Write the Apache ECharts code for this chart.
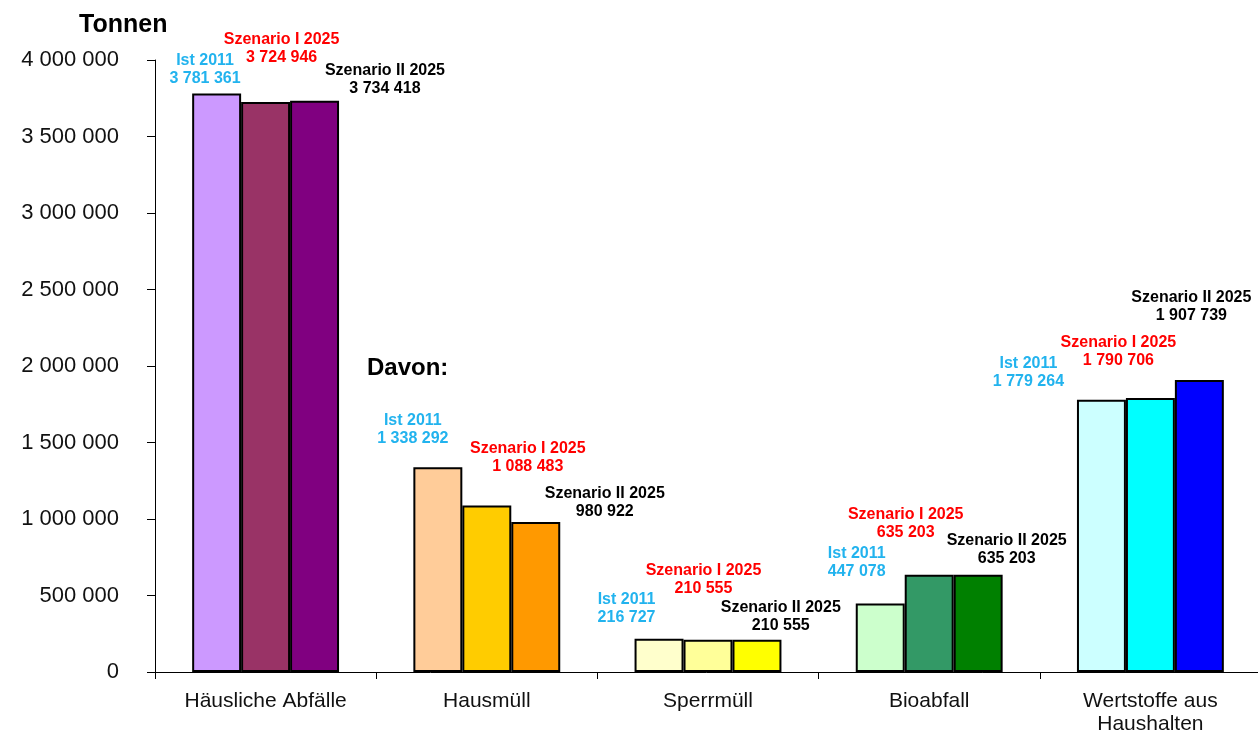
<!DOCTYPE html>
<html>
<head>
<meta charset="utf-8">
<script src="https://cdn.jsdelivr.net/npm/echarts@6/dist/echarts.min.js"></script>
<style>
  html, body { margin: 0; padding: 0; background: #ffffff; }
  #chart { width: 1258px; height: 731px; }
</style>
</head>
<body>
<div id="chart"></div>
<script>
// Waste quantities in tonnes: actual 2011 and two 2025 scenarios
const categories = ['Häusliche Abfälle', 'Hausmüll', 'Sperrmüll', 'Bioabfall', 'Wertstoffe aus\nHaushalten'];
const seriesNames = ['Ist 2011', 'Szenario I 2025', 'Szenario II 2025'];
const ist2011 = [3781361, 1338292, 216727, 447078, 1779264];
const szenario1 = [3724946, 1088483, 210555, 635203, 1790706];
const szenario2 = [3734418, 980922, 210555, 635203, 1907739];
const yMin = 0;
const yMax = 4000000;
const yStep = 500000;

// Fill colours per series (rows) and category (columns)
const barColors = [
  ['#CC99FF', '#FFCC99', '#FFFFCC', '#CCFFCC', '#CCFFFF'],
  ['#993366', '#FFCC00', '#FFFF99', '#339966', '#00FFFF'],
  ['#800080', '#FF9900', '#FFFF00', '#008000', '#0000FF']
];
const labelColors = ['#22B3EE', '#FF0000', '#000000'];
// Label shifts [dx, dy] relative to the top centre of each bar
const labelOffsets = [
  [[-11.6, -5.5], [-25, -20], [-32.5, -12], [-23.5, -22.6], [-73, -9]],
  [[16, -35], [41, -29.5], [-4.5, -42], [-23.5, -33], [-32, -28]],
  [[70.4, -2.6], [69, -1], [23.8, -5], [28.5, -7], [-8, -56]]
];

const FONT = "'Liberation Sans', Arial, Helvetica, sans-serif";

function groupDigits(v) {
  return String(v).replace(/\B(?=(\d{3})+(?!\d))/g, ' ');
}

const valueSets = [ist2011, szenario1, szenario2];

const series = valueSets.map(function (values, s) {
  return {
    name: seriesNames[s],
    type: 'bar',
    barGap: '0%',
    barCategoryGap: '33.6%',
    data: values.map(function (v, c) {
      return {
        value: v,
        itemStyle: { color: barColors[s][c] },
        label: { offset: labelOffsets[s][c] }
      };
    }),
    itemStyle: { borderColor: '#000000', borderWidth: 2 },
    label: {
      show: true,
      position: 'top',
      distance: 0,
      color: labelColors[s],
      fontFamily: FONT,
      fontWeight: 'bold',
      fontSize: 16,
      lineHeight: 18,
      align: 'center',
      formatter: function (p) { return p.seriesName + '\n' + groupDigits(p.value); }
    },
    emphasis: { disabled: true },
    animation: false
  };
});

const chart = echarts.init(document.getElementById('chart'), null, { renderer: 'canvas' });
chart.setOption({
  backgroundColor: '#ffffff',
  animation: false,
  grid: {
    left: 155,
    top: 60,
    width: 1106,
    height: 612,
    containLabel: false,
    outerBoundsMode: 'none'
  },
  xAxis: {
    type: 'category',
    data: categories,
    axisLine: { show: true, lineStyle: { color: '#000000', width: 1 } },
    axisTick: { show: true, length: 7, alignWithLabel: false, lineStyle: { color: '#000000' } },
    axisLabel: {
      color: '#111111',
      fontFamily: FONT,
      fontSize: 21,
      lineHeight: 23,
      margin: 18,
      interval: 0
    }
  },
  yAxis: {
    type: 'value',
    min: yMin,
    max: yMax,
    interval: yStep,
    axisLine: { show: true, lineStyle: { color: '#000000', width: 1 } },
    axisTick: { show: true, length: 8, lineStyle: { color: '#000000' } },
    splitLine: { show: false },
    axisLabel: {
      color: '#111111',
      fontFamily: FONT,
      fontSize: 22,
      margin: 36,
      formatter: function (v) { return groupDigits(v); }
    }
  },
  graphic: [
    {
      type: 'text',
      left: 79,
      top: 13,
      style: { text: 'Tonnen', fill: '#000000', font: 'bold 25px ' + FONT }
    },
    {
      type: 'text',
      left: 367,
      top: 356,
      style: { text: 'Davon:', fill: '#000000', font: 'bold 24px ' + FONT }
    }
  ],
  series: series
});
</script>
</body>
</html>
